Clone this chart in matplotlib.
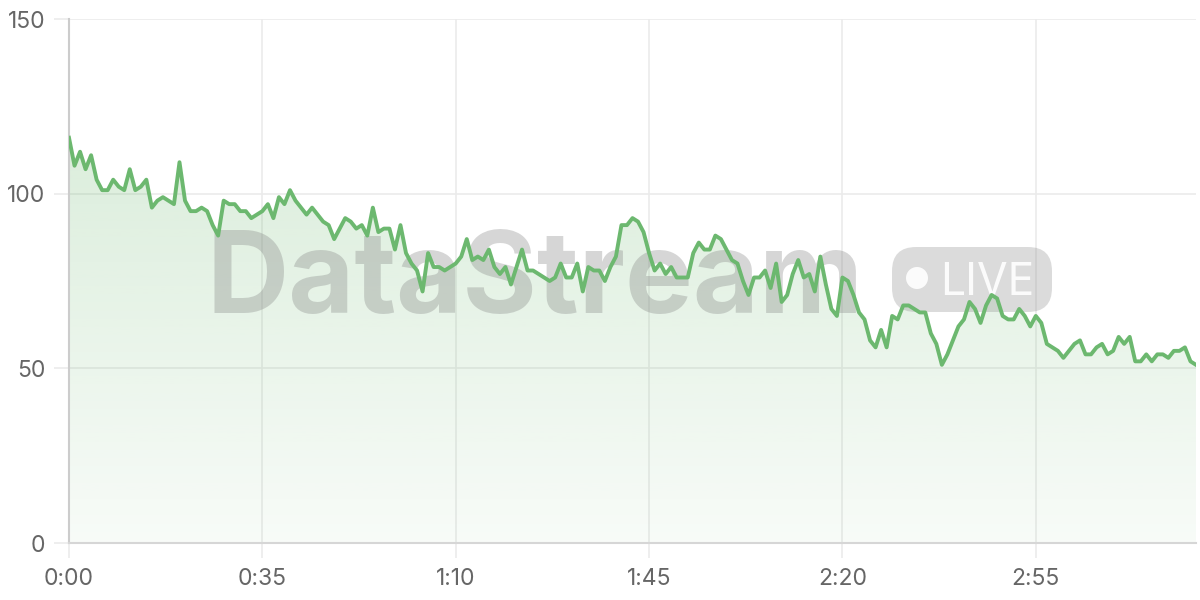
import numpy as np
import matplotlib.pyplot as plt
import matplotlib.transforms as mtransforms
from matplotlib.patches import FancyBboxPatch, Circle

# Data: one reading per second
values = [
    116, 108, 112, 107, 111, 104, 101, 101, 104, 102,
    101, 107, 101, 102, 104, 96, 98, 99, 98, 97,
    109, 98, 95, 95, 96, 95, 91, 88, 98, 97,
    97, 95, 95, 93, 94, 95, 97, 93, 99, 97,
    101, 98, 96, 94, 96, 94, 92, 91, 87, 90,
    93, 92, 90, 91, 88, 96, 89, 90, 90, 84,
    91, 83, 80, 78, 72, 83, 79, 79, 78, 79,
    80, 82, 87, 81, 82, 81, 84, 79, 77, 79,
    74, 79, 84, 78, 78, 77, 76, 75, 76, 80,
    76, 76, 80, 72, 79, 78, 78, 75, 79, 82,
    91, 91, 93, 92, 89, 83, 78, 80, 77, 79,
    76, 76, 76, 83, 86, 84, 84, 88, 87, 84,
    81, 80, 75, 71, 76, 76, 78, 73, 80, 69,
    71, 77, 81, 76, 77, 72, 82, 74, 67, 65,
    76, 75, 71, 66, 64, 58, 56, 61, 56, 65,
    64, 68, 68, 67, 66, 66, 60, 57, 51, 54,
    58, 62, 64, 69, 67, 63, 68, 71, 70, 65,
    64, 64, 67, 65, 62, 65, 63, 57, 56, 55,
    53, 55, 57, 58, 54, 54, 56, 57, 54, 55,
    59, 57, 59, 52, 52, 54, 52, 54, 54, 53,
    55, 55, 56, 52, 51,
]
seconds = np.arange(len(values))
x_ticks = [0, 35, 70, 105, 140, 175]
y_ticks = [0, 50, 100, 150]

line_color = '#6cb86f'
grid_color = '#ebebeb'
text_color = '#666666'

plt.rcParams['font.family'] = ['Inter', 'DejaVu Sans']

fig = plt.figure(figsize=(12, 6), dpi=100)
ax = fig.add_axes([69 / 1200, 57 / 600, 1127 / 1200, 524 / 600])

# gradient fill under the line
poly = ax.fill_between(seconds, values, 0, color='none', lw=0)
grad = np.zeros((256, 1, 4))
grad[..., 0] = 0x6c / 255
grad[..., 1] = 0xb8 / 255
grad[..., 2] = 0x6f / 255
grad[:, 0, 3] = np.linspace(0.05, 0.30, 256)
im = ax.imshow(grad, extent=[0, seconds[-1], 0, 150], aspect='auto',
               origin='lower', zorder=1)
im.set_clip_path(poly.get_paths()[0], transform=ax.transData)

ax.plot(seconds, values, color=line_color, lw=2.8, zorder=4,
        solid_joinstyle='round')

# watermark, placed in pixel coordinates
px = mtransforms.Affine2D().scale(1 / 100, -1 / 100).translate(0, 6) + fig.dpi_scale_trans
ax.text(535, 313, 'DataStream', transform=px, ha='center', va='baseline',
        fontsize=82, fontweight='bold', color='#808080', alpha=0.32, zorder=2)
box = FancyBboxPatch((892, 247), 160, 65, boxstyle='round,pad=0,rounding_size=24',
                     transform=px, fc='#808080', ec='none', alpha=0.28,
                     zorder=2, clip_on=False)
ax.add_patch(box)
ax.add_patch(Circle((917, 278), 11, transform=px, fc='white', ec='none',
                    alpha=0.9, zorder=3, clip_on=False))
ax.text(940, 295, 'LIVE', transform=px, ha='left', va='baseline',
        fontsize=32, color='white', alpha=0.9, zorder=3)

ax.set_xlim(0, seconds[-1])
ax.set_ylim(0, 150)
ax.set_xticks(x_ticks)
ax.set_xticklabels([f'{s // 60}:{s % 60:02d}' for s in x_ticks])
ax.set_yticks(y_ticks)
ax.grid(True, color=grid_color, lw=1.2, zorder=0)
ax.set_axisbelow(True)

ax.tick_params(axis='both', length=11, width=1.2, color=grid_color,
               labelcolor=text_color, labelsize=16.5)
ax.tick_params(axis='x', pad=7)
ax.tick_params(axis='y', pad=6)

for side in ['top', 'right']:
    ax.spines[side].set_visible(False)
ax.spines['left'].set_color('#cccccc')
ax.spines['left'].set_linewidth(1.5)
ax.spines['bottom'].set_color('#d6d6d6')
ax.spines['bottom'].set_linewidth(1.5)

fig.savefig('out.png', dpi=100)
